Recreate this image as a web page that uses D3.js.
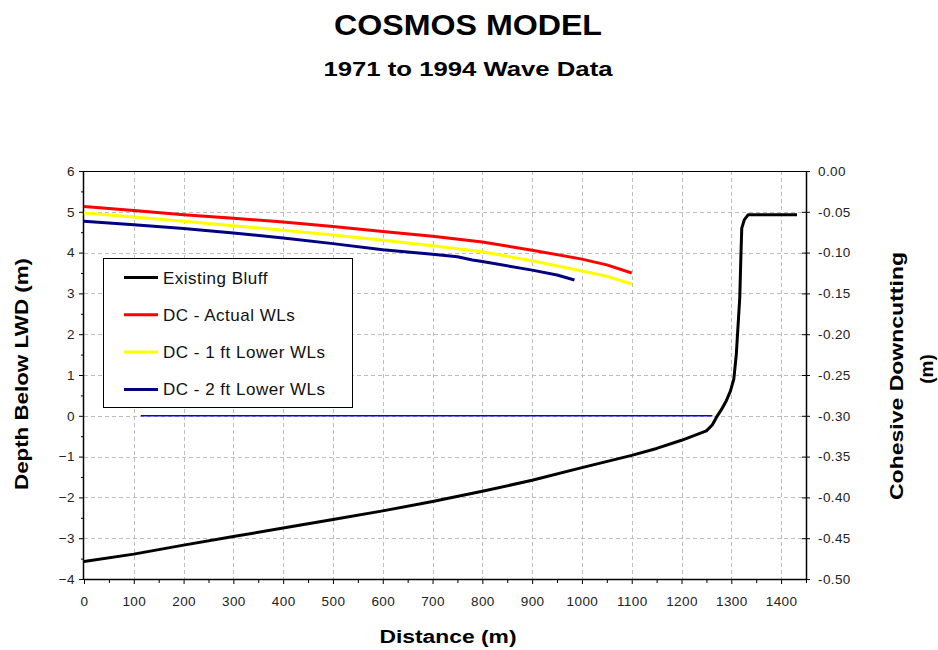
<!DOCTYPE html>
<html>
<head>
<meta charset="utf-8">
<script src="https://cdn.jsdelivr.net/npm/d3@7"></script>
<style>
  html, body { margin: 0; padding: 0; background: #fff; }
  svg { display: block; font-family: "Liberation Sans", Arial, sans-serif; }
</style>
</head>
<body>
<svg id="chart" width="938" height="650"></svg>
<script>
// Existing bluff profile: distance (m) vs depth below LWD (m)
const bluffDist  = [0, 100, 200, 300, 400, 500, 600, 700, 800, 900, 1000, 1100, 1150, 1200, 1250, 1262, 1270, 1280, 1290, 1298, 1305, 1310, 1313, 1317, 1319, 1321, 1326, 1334, 1432];
const bluffDepth = [-3.57, -3.39, -3.17, -2.96, -2.75, -2.54, -2.33, -2.10, -1.85, -1.58, -1.27, -0.97, -0.80, -0.60, -0.37, -0.22, -0.04, 0.15, 0.37, 0.60, 0.90, 1.50, 2.10, 2.90, 3.80, 4.60, 4.80, 4.93, 4.93];

// Downcutting profiles for the three water-level scenarios
const actualDist  = [0, 100, 200, 300, 400, 500, 600, 700, 800, 900, 1000, 1050, 1100];
const actualDepth = [5.13, 5.03, 4.93, 4.84, 4.75, 4.64, 4.52, 4.40, 4.26, 4.06, 3.84, 3.70, 3.50];
const lower1Dist  = [0, 100, 200, 300, 400, 500, 600, 700, 800, 900, 1000, 1050, 1100];
const lower1Depth = [4.97, 4.87, 4.77, 4.66, 4.55, 4.43, 4.30, 4.17, 4.02, 3.80, 3.55, 3.42, 3.23];
const lower2Dist  = [0, 100, 200, 300, 400, 500, 600, 700, 750, 780, 800, 900, 950, 985];
const lower2Depth = [4.77, 4.68, 4.59, 4.48, 4.36, 4.22, 4.07, 3.96, 3.90, 3.82, 3.78, 3.57, 3.45, 3.33];

// Cohesive downcutting level (right axis)
const downcutDist  = [114, 1262];
const downcutValue = [-0.30, -0.30];

// Axis ticks
const xTicks      = [0, 100, 200, 300, 400, 500, 600, 700, 800, 900, 1000, 1100, 1200, 1300, 1400];
const yTicks      = [-4, -3, -2, -1, 0, 1, 2, 3, 4, 5, 6];
const yRightTicks = [-0.50, -0.45, -0.40, -0.35, -0.30, -0.25, -0.20, -0.15, -0.10, -0.05, 0.00];

const seriesNames  = ["Existing Bluff", "DC - Actual WLs", "DC - 1 ft Lower WLs", "DC - 2 ft Lower WLs"];
const seriesColors = ["#000000", "#ff0000", "#ffff00", "#000080"];

const svg = d3.select("#chart");
const plotLeft = 84, plotRight = 806, plotTop = 171, plotBottom = 579;

const x  = d3.scaleLinear().domain([0, 1450]).range([plotLeft, plotRight]);
const y  = d3.scaleLinear().domain([-4, 6]).range([plotBottom, plotTop]);
const y2 = d3.scaleLinear().domain([-0.5, 0]).range([plotBottom, plotTop]);

// Dashed grid
const grid = svg.append("g").attr("stroke", "#bdbdbd").attr("stroke-width", 1).attr("stroke-dasharray", "4,3");
grid.selectAll("line.v").data(xTicks.filter(d => d > 0)).join("line")
  .attr("x1", d => Math.round(x(d)) + 0.5).attr("x2", d => Math.round(x(d)) + 0.5)
  .attr("y1", plotTop).attr("y2", plotBottom);
grid.selectAll("line.h").data(yTicks.filter(d => d > -4 && d < 6)).join("line")
  .attr("y1", d => Math.round(y(d)) + 0.5).attr("y2", d => Math.round(y(d)) + 0.5)
  .attr("x1", plotLeft).attr("x2", plotRight);

// Top frame line
svg.append("line").attr("x1", plotLeft).attr("x2", plotRight).attr("y1", plotTop + 0.5).attr("y2", plotTop + 0.5)
  .attr("stroke", "#000").attr("stroke-width", 1);

// Axes
const tickFont = g => g.selectAll("text")
  .attr("font-size", 13.5).attr("fill", "#222").attr("letter-spacing", 0.4)
  .attr("font-family", "'Liberation Sans', Arial, sans-serif");

const xAxis = svg.append("g").attr("transform", `translate(0,${plotBottom})`)
  .call(d3.axisBottom(x).tickValues(xTicks).tickFormat(d3.format("d")).tickSize(5).tickPadding(12));
xAxis.select(".domain").attr("stroke-width", 1.5).attr("d", `M${plotLeft},0.5H${plotRight}`);
xAxis.call(tickFont);
svg.append("g").attr("transform", `translate(0,${plotBottom})`)
  .call(d3.axisBottom(x).tickValues(d3.range(50, 1451, 100)).tickSize(4).tickFormat(""))
  .call(g => g.select(".domain").remove());

const yAxis = svg.append("g").attr("transform", `translate(${plotLeft},0)`)
  .call(d3.axisLeft(y).tickValues(yTicks).tickFormat(d3.format("d")).tickSize(5).tickPadding(4));
yAxis.select(".domain").attr("stroke-width", 1.5).attr("d", `M-0.5,${plotTop}V${plotBottom}`);
yAxis.call(tickFont);
svg.append("g").attr("transform", `translate(${plotLeft},0)`)
  .call(d3.axisLeft(y).tickValues(d3.range(-3.5, 6, 1)).tickSize(3).tickFormat(""))
  .call(g => g.select(".domain").remove());

const yAxisR = svg.append("g").attr("transform", `translate(${plotRight},0)`)
  .call(d3.axisRight(y2).tickValues(yRightTicks).tickFormat(d3.format(".2f")).tickSizeInner(4).tickSizeOuter(0).tickPadding(8));
yAxisR.select(".domain").attr("stroke-width", 1.5).attr("d", `M0.5,${plotTop}V${plotBottom}`);
yAxisR.selectAll(".tick line").attr("x1", -4);
yAxisR.call(tickFont);
yAxisR.selectAll("text").text(d => d3.format(".2f")(d).replace("−", "-"));

// Series
const line = d3.line().x(d => x(d[0])).y(d => y(d[1]));
const zip = (a, b) => a.map((v, i) => [v, b[i]]);

svg.append("path").datum(zip(downcutDist, downcutValue))
  .attr("fill", "none").attr("stroke", "#0000ff").attr("stroke-width", 1.5)
  .attr("d", d3.line().x(d => x(d[0])).y(d => y2(d[1])));

const seriesData = [
  zip(bluffDist, bluffDepth),
  zip(actualDist, actualDepth),
  zip(lower1Dist, lower1Depth),
  zip(lower2Dist, lower2Depth)
];
[3, 2, 1, 0].forEach(i => {
  svg.append("path").datum(seriesData[i])
    .attr("fill", "none").attr("stroke", seriesColors[i]).attr("stroke-width", 3)
    .attr("stroke-linejoin", "round")
    .attr("d", line);
});

// Legend
const legend = svg.append("g");
legend.append("rect").attr("x", 103.5).attr("y", 258.5).attr("width", 249).attr("height", 149)
  .attr("fill", "#fff").attr("stroke", "#000").attr("stroke-width", 1);
seriesNames.forEach((name, i) => {
  const ly = 277.5 + i * 37.3;
  legend.append("line").attr("x1", 124).attr("x2", 158).attr("y1", ly).attr("y2", ly)
    .attr("stroke", seriesColors[i]).attr("stroke-width", 3);
  legend.append("text").attr("x", 163).attr("y", ly + 6)
    .attr("font-size", 17).attr("letter-spacing", 0.5).attr("fill", "#111").text(name);
});

// Titles
svg.append("text").attr("x", 468).attr("y", 35).attr("text-anchor", "middle")
  .attr("font-size", 29).attr("font-weight", "bold")
  .attr("textLength", 268).attr("lengthAdjust", "spacingAndGlyphs").text("COSMOS MODEL");
svg.append("text").attr("x", 468).attr("y", 76).attr("text-anchor", "middle")
  .attr("font-size", 20).attr("font-weight", "bold")
  .attr("textLength", 289).attr("lengthAdjust", "spacingAndGlyphs").text("1971 to 1994 Wave Data");

svg.append("text").attr("x", 448).attr("y", 643).attr("text-anchor", "middle")
  .attr("font-size", 18).attr("font-weight", "bold")
  .attr("textLength", 137).attr("lengthAdjust", "spacingAndGlyphs").text("Distance (m)");

svg.append("text").attr("transform", "translate(28,374) rotate(-90)").attr("text-anchor", "middle")
  .attr("font-size", 19).attr("font-weight", "bold")
  .attr("textLength", 232).attr("lengthAdjust", "spacingAndGlyphs").text("Depth Below LWD (m)");

svg.append("text").attr("transform", "translate(903,376) rotate(-90)").attr("text-anchor", "middle")
  .attr("font-size", 19).attr("font-weight", "bold")
  .attr("textLength", 248).attr("lengthAdjust", "spacingAndGlyphs").text("Cohesive Downcutting");
svg.append("text").attr("transform", "translate(933,369) rotate(-90)").attr("text-anchor", "middle")
  .attr("font-size", 19).attr("font-weight", "bold").text("(m)");
</script>
</body>
</html>
